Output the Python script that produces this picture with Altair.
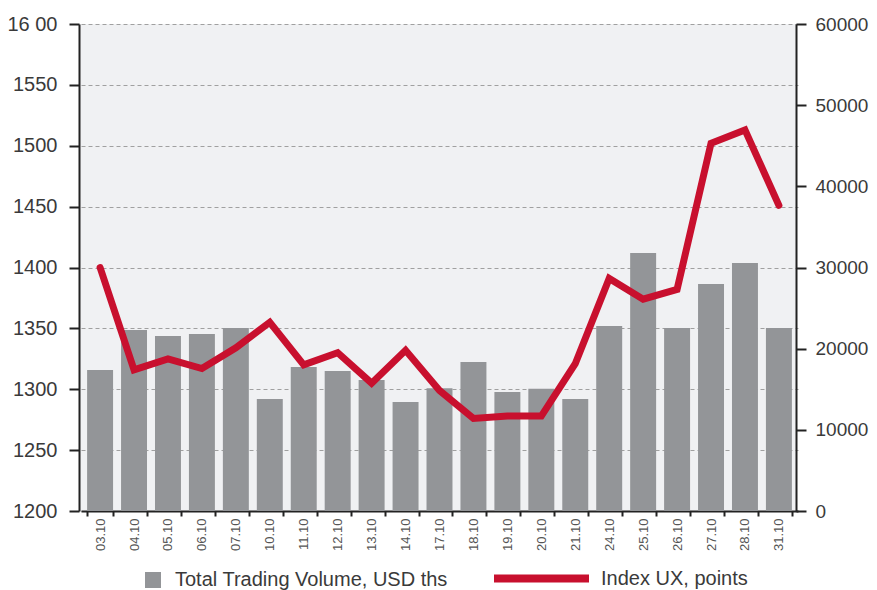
import altair as alt
import pandas as pd

dates = ["03.10", "04.10", "05.10", "06.10", "07.10", "10.10", "11.10", "12.10",
         "13.10", "14.10", "17.10", "18.10", "19.10", "20.10", "21.10", "24.10",
         "25.10", "26.10", "27.10", "28.10", "31.10"]
volume = [17370, 22300, 21560, 21800, 22550, 13800, 17740, 17250,
          16140, 13430, 15120, 18360, 14660, 15070, 13800, 22790,
          31790, 22550, 27970, 30550, 22550]
index_ux = [1400, 1316, 1325, 1317, 1334, 1355, 1320, 1330,
            1305, 1332, 1299, 1276, 1278, 1278, 1321, 1391,
            1374, 1382, 1502, 1513, 1451]
left_ticks = [1200, 1250, 1300, 1350, 1400, 1450, 1500, 1550, 1600]
right_ticks = [0, 10000, 20000, 30000, 40000, 50000, 60000]
vol_name = "Total Trading Volume, USD ths"
idx_name = "Index UX, points"

df = pd.DataFrame({"date": dates, "volume": volume, "index": index_ux,
                   "vol_label": vol_name, "idx_label": idx_name})

FONT = "Liberation Sans"
DARK = "#222222"
TXT = "#3a3a3a"

x = alt.X("date:N", sort=None, title=None,
          scale=alt.Scale(paddingInner=0.235, paddingOuter=0.18, range=[2, 719]),
          axis=alt.Axis(labelAngle=270, tickBand="extent", labelFont=FONT,
                        labelFontSize=13, labelColor="#555555", labelPadding=2,
                        tickSize=5, tickWidth=2, tickColor=DARK,
                        domainColor=DARK, domainWidth=2, grid=False))

bars = alt.Chart(df).mark_bar().encode(
    x=x,
    y=alt.Y("volume:Q", title=None,
            scale=alt.Scale(domain=[0, 60000], nice=False, zero=True),
            axis=alt.Axis(orient="right", values=right_ticks, format="d", grid=False,
                          labelFont=FONT, labelFontSize=19, labelColor=TXT,
                          labelPadding=9, tickSize=10, tickWidth=2, tickColor=DARK,
                          domainColor=DARK, domainWidth=2)),
    fill=alt.Fill("vol_label:N", scale=alt.Scale(domain=[vol_name], range=["#939598"]),
                  legend=alt.Legend(orient="none", legendX=64, legendY=546, title=None,
                                    symbolType="square", symbolSize=256,
                                    symbolStrokeWidth=0, labelFont=FONT,
                                    labelFontSize=20, labelColor=TXT, labelOffset=12,
                                    labelLimit=400, padding=0)),
)

line = alt.Chart(df).mark_line(strokeWidth=7, strokeCap="round", strokeJoin="miter").encode(
    x=x,
    y=alt.Y("index:Q", title=None,
            scale=alt.Scale(domain=[1200, 1600], nice=False, zero=False),
            axis=alt.Axis(orient="left", values=left_ticks, grid=True,
                          labelExpr="datum.value == 1600 ? '16 00' : format(datum.value, 'd')",
                          gridDash=[4, 3], gridColor="#a0a0a0", gridWidth=1,
                          labelFont=FONT, labelFontSize=20, labelColor=TXT,
                          labelPadding=12, tickSize=10, tickWidth=2, tickColor=DARK,
                          domainColor=DARK, domainWidth=2)),
    stroke=alt.Stroke("idx_label:N", scale=alt.Scale(domain=[idx_name], range=["#C8102E"]),
                      legend=alt.Legend(orient="none", legendX=411, legendY=503, title=None,
                                        symbolType="stroke", symbolSize=9025,
                                        symbolStrokeWidth=8, labelFont=FONT,
                                        labelFontSize=20, labelColor=TXT, labelOffset=8,
                                        labelLimit=400, padding=0)),
)

chart = alt.layer(bars, line).resolve_scale(
    y="independent", fill="independent", stroke="independent"
).properties(
    width=717, height=487,
    padding={"left": 71, "top": 16, "right": 73, "bottom": 79},
    autosize=alt.AutoSizeParams(type="none"),
).configure_view(fill="#F0F1F3", stroke=None)

chart.save("out.html", embed_options={"renderer": "svg", "actions": False})
